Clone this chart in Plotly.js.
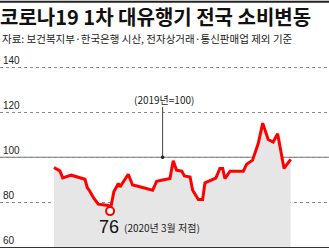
<!DOCTYPE html>
<html><head><meta charset="utf-8">
<script src="https://cdn.plot.ly/plotly-3.0.1.min.js"></script>
<style>html,body{margin:0;padding:0;background:#fff}#chart{width:329px;height:248px}</style>
</head><body><div id="chart"></div>
<script>
// period index (relative time position) and consumption index (2019=100)
const period = [0,2.5,3.7,7.3,13.1,14.1,14.9,16.9,18.7,22.9,23.7,25.3,27.2,27.9,31.4,33.2,35.5,38.4,41.7,43.4,46.2,49.0,50.4,51.8,54.0,55.1,57.5,58.6,61.0,62.8,63.8,67.3,68.4,70.1,71.3,72.2,74.4,80.0,81.4,83.9,86.3,88.2,90.5,92.6,94.5,97.2,100];
const consumption = [95.4,93.9,90.8,92.0,90.2,86.4,85.3,81.6,79.1,78.5,76,84.6,88.3,86.8,92.4,87.6,87.1,86.4,85.3,89.3,89.8,90.5,98.4,94.2,93.8,91.7,91.2,85.3,81.2,81.2,88.6,90.1,90.7,95.0,95.0,90.5,93.8,93.8,96.9,98.7,106.1,115.2,107.9,106.8,110.5,95.0,99.0];
const yTicks = [60,80,100,120,140];
const yTickText = ['60','80','100','120','140'];
const baseValue = 100;
const baseLabel = '(2019년=100)';
const titleText = '코로나19 1차 대유행기 전국 소비변동';
const sourceText = '자료: 보건복지부·한국은행 시산, 전자상거래·통신판매업 제외 기준';
const lowNote = '(2020년 3월 저점)';

let minI = 0;
consumption.forEach((v,i)=>{ if (v < consumption[minI]) minI = i; });

const KR = '"Noto Sans CJK KR", "Liberation Sans", sans-serif';
const NUM = '"Liberation Sans", "Noto Sans CJK KR", sans-serif';

const traces = [
  {x: period, y: consumption, type:'scatter', mode:'lines', fill:'tozeroy',
   fillcolor:'#e6e6e6', line:{color:'#ff0000', width:3}, hoverinfo:'skip'},
  {x:[period[minI]], y:[consumption[minI]], type:'scatter', mode:'markers',
   marker:{size:8, color:'#ffffff', line:{color:'#ff0000', width:2}}, hoverinfo:'skip'}
];

// plot area: y=60 at 247px, 2.25 px per unit; top of range 146 -> 53.5px
const baseX = 45.9;
const layout = {
  width:329, height:248,
  margin:{l:0, r:0, t:53.5, b:1, pad:0},
  paper_bgcolor:'#ffffff', plot_bgcolor:'#ffffff',
  showlegend:false,
  title:{text:titleText, x:0, xref:'container', xanchor:'left', y:1-18/248, yref:'container', yanchor:'middle',
         font:{family:KR, size:20, weight:700, color:'#111'}},
  xaxis:{range:[-22.8,116.2], showgrid:false, zeroline:false, showticklabels:false, ticks:'',
         showline:true, linecolor:'#333', linewidth:2, fixedrange:true},
  yaxis:{range:[60,146], tickvals:yTicks, ticktext:yTickText, ticklabelposition:'inside top',
         showgrid:true, gridcolor:'#888', griddash:'dot', gridwidth:1, zeroline:false, ticks:'',
         showline:false, tickfont:{family:NUM, size:10, color:'#222'}, fixedrange:true},
  shapes:[
    {type:'line', xref:'paper', yref:'y', x0:0, x1:1, y0:baseValue, y1:baseValue, line:{color:'#777', width:1}, layer:'below'},
    {type:'line', xref:'x', yref:'y', x0:baseX, x1:baseX, y0:baseValue, y1:122.4, line:{color:'#444', width:1}},
    {type:'circle', xref:'x', yref:'y', xsizemode:'pixel', ysizemode:'pixel', xanchor:baseX, yanchor:baseValue,
     x0:-1.8, x1:1.8, y0:-1.8, y1:1.8, fillcolor:'#222', line:{width:0}},
    {type:'line', xref:'paper', yref:'paper', x0:0, x1:1, y0:246/193.5, y1:246/193.5, line:{color:'#222', width:2}}
  ],
  annotations:[
    {text:sourceText, xref:'paper', yref:'paper', x:0, y:(247-38)/193.5, xanchor:'left', yanchor:'middle',
     showarrow:false, font:{family:KR, size:10.5, color:'#222'}},
    {text:baseLabel, xref:'x', yref:'y', x:baseX+0.4, y:125.8, xanchor:'center', yanchor:'middle',
     showarrow:false, font:{family:KR, size:10, color:'#222'}},
    {text:String(Math.round(consumption[minI])), xref:'x', yref:'y', x:23.4, y:68.9, xanchor:'center', yanchor:'middle',
     showarrow:false, font:{family:NUM, size:18, color:'#111'}},
    {text:lowNote, xref:'x', yref:'y', x:28.6, y:68.5, xanchor:'left', yanchor:'middle',
     showarrow:false, font:{family:KR, size:10, color:'#222'}}
  ]
};
Plotly.newPlot('chart', traces, layout, {staticPlot:true, displayModeBar:false});
</script></body></html>
